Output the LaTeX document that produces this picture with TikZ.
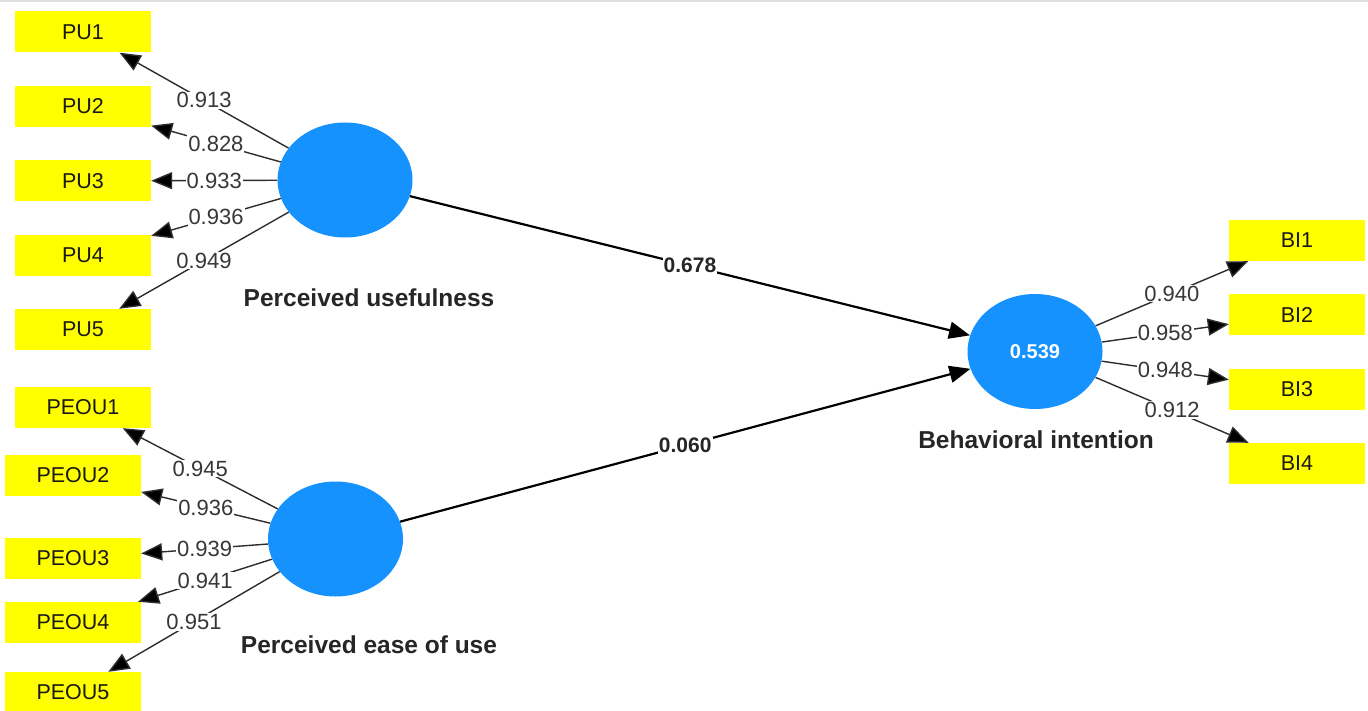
\documentclass[tikz,border=0pt]{standalone}
\usepackage{fontspec}
\setmainfont{Liberation Sans}
\usetikzlibrary{shapes.geometric,arrows.meta}
\definecolor{lvblue}{RGB}{22,146,255}
\definecolor{mvyellow}{RGB}{255,255,0}
\definecolor{labgray}{RGB}{55,55,55}
\definecolor{linegray}{RGB}{45,45,45}
\begin{document}
\begin{tikzpicture}[x=1pt,y=-1pt,
  lv/.style={ellipse,fill=lvblue,minimum width=135pt,minimum height=115pt,inner sep=0pt,text=white,font=\fontsize{20}{23}\selectfont\bfseries},
  mv/.style={rectangle,fill=mvyellow,minimum width=136pt,minimum height=41pt,inner sep=0pt,text=black!90,font=\fontsize{21.5}{24}\selectfont},
  ind/.style={draw=linegray,line width=1.4pt,-{Triangle[length=21pt,width=17pt,fill=black]}},
  str/.style={draw=black,line width=2.2pt,-{Triangle[length=21pt,width=17pt]}},
  lab/.style={fill=white,inner sep=1pt,text=labgray,font=\fontsize{22}{25}\selectfont},
  slab/.style={fill=white,inner sep=1pt,text=black!85,font=\fontsize{21}{25}\selectfont\bfseries},
  cname/.style={text=black!85,font=\fontsize{24.5}{28}\selectfont\bfseries}]
\useasboundingbox (0,0) rectangle (1368,711);
\fill[white] (0,0) rectangle (1368,711);
\draw[black!12,line width=1.5pt] (0,0.8) -- (1368,0.8);
% latent variables
\node[lv] (PU) at (345,180) {};
\node[lv] (PEOU) at (335.5,539) {};
\node[lv] (BI) at (1035,351.5) {0.539};
\node[cname] (PUn) at (369,298) {Perceived usefulness};
\node[cname] (PEOUn) at (369,645) {Perceived ease of use};
\node[cname] (BIn) at (1036,440) {Behavioral intention};
% indicators
\node[mv] (PU1) at (83,32) {PU1};
\node[mv] (PU2) at (83,106.5) {PU2};
\node[mv] (PU3) at (83,181) {PU3};
\node[mv] (PU4) at (83,255.5) {PU4};
\node[mv] (PU5) at (83,329.5) {PU5};
\node[mv] (PEOU1) at (83,407.5) {PEOU1};
\node[mv] (PEOU2) at (73,475.5) {PEOU2};
\node[mv] (PEOU3) at (73,558.5) {PEOU3};
\node[mv] (PEOU4) at (73,622.5) {PEOU4};
\node[mv] (PEOU5) at (73,692.5) {PEOU5};
\node[mv] (BI1) at (1297,240.5) {BI1};
\node[mv] (BI2) at (1297,314.5) {BI2};
\node[mv] (BI3) at (1297,389.5) {BI3};
\node[mv] (BI4) at (1297,463.5) {BI4};
% outer loadings
\draw[ind] (PU) -- node[lab]{0.913} (PU1);
\draw[ind] (PU) -- node[lab]{0.828} (PU2);
\draw[ind] (PU) -- node[lab]{0.933} (PU3);
\draw[ind] (PU) -- node[lab]{0.936} (PU4);
\draw[ind] (PU) -- node[lab]{0.949} (PU5);
\draw[ind] (PEOU) -- node[lab]{0.945} (PEOU1);
\draw[ind] (PEOU) -- node[lab]{0.936} (PEOU2);
\draw[ind] (PEOU) -- node[lab]{0.939} (PEOU3);
\draw[ind] (PEOU) -- node[lab]{0.941} (PEOU4);
\draw[ind] (PEOU) -- node[lab]{0.951} (PEOU5);
\draw[ind] (BI) -- node[lab]{0.940} (BI1);
\draw[ind] (BI) -- node[lab]{0.958} (BI2);
\draw[ind] (BI) -- node[lab]{0.948} (BI3);
\draw[ind] (BI) -- node[lab]{0.912} (BI4);
% path coefficients
\draw[str] (PU) -- node[slab]{0.678} (BI);
\draw[str] (PEOU) -- node[slab]{0.060} (BI);
\end{tikzpicture}
\end{document}
